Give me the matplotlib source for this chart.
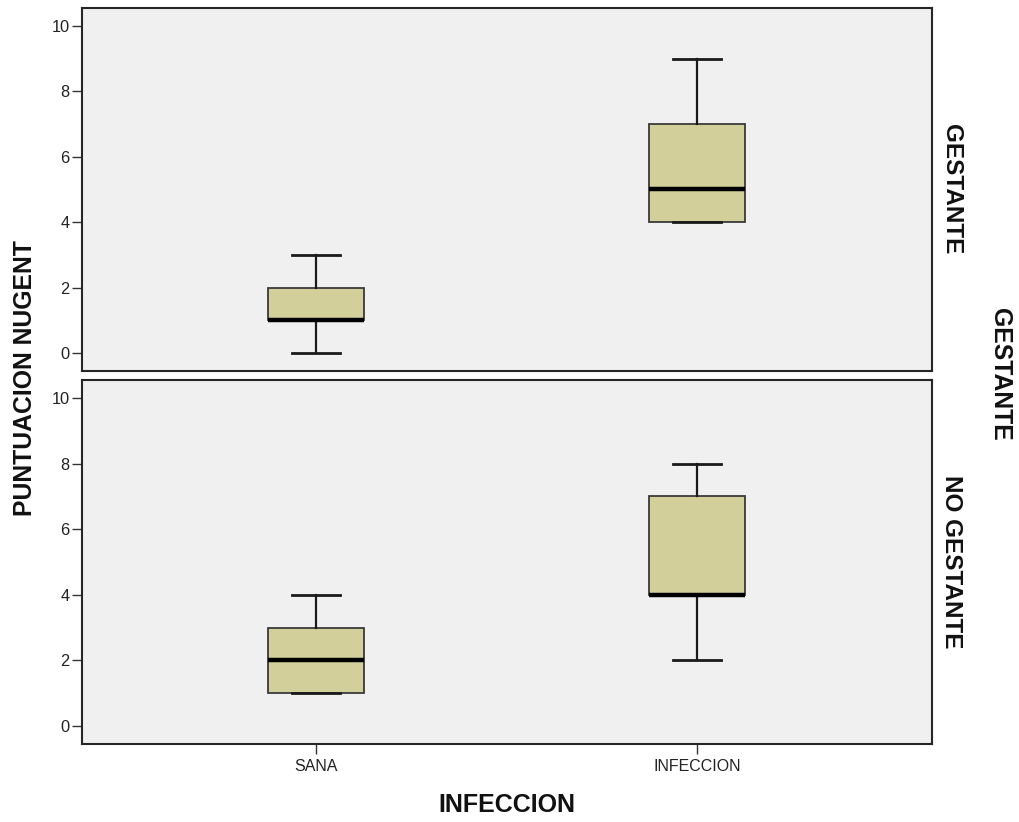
import matplotlib
matplotlib.use('Agg')
import matplotlib.pyplot as plt

plt.rcParams['font.family'] = ['Liberation Sans', 'DejaVu Sans']

categories = ['SANA', 'INFECCION']
panels = ['GESTANTE', 'NO GESTANTE']

# five-number summaries per panel: (whislo, q1, med, q3, whishi)
gestante = [(0, 1, 1, 2, 3), (4, 4, 5, 7, 9)]
no_gestante = [(1, 1, 2, 3, 4), (2, 4, 4, 7, 8)]
yticks = [0, 2, 4, 6, 8, 10]

box_fill = '#d3cf9b'
bg = '#f0f0f0'
edge = '#262626'


def stats(rows):
    out = []
    for lo, q1, med, q3, hi in rows:
        out.append(dict(whislo=lo, q1=q1, med=med, q3=q3, whishi=hi, fliers=[]))
    return out


fig = plt.figure(figsize=(10.2, 8.22), dpi=100)
ax1 = fig.add_axes([0.0804, 0.5487, 0.8333, 0.4416])
ax2 = fig.add_axes([0.0804, 0.0949, 0.8333, 0.4428])

for ax, data, name in [(ax1, gestante, panels[0]), (ax2, no_gestante, panels[1])]:
    ax.set_facecolor(bg)
    ax.bxp(stats(data), positions=[1, 2], widths=0.25, patch_artist=True,
           showfliers=False,
           boxprops=dict(facecolor=box_fill, edgecolor='#3a3a3a', linewidth=1.3),
           medianprops=dict(color='black', linewidth=3.2),
           whiskerprops=dict(color='#1a1a1a', linewidth=1.6),
           capprops=dict(color='#1a1a1a', linewidth=2.0),
           capwidths=0.125)
    ax.set_xlim(0.386, 2.617)
    ax.set_ylim(-0.55, 10.55)
    ax.set_yticks(yticks)
    ax.set_yticklabels([str(t) for t in yticks], fontsize=11.8, color='#222222')
    ax.tick_params(axis='y', length=7, width=1, color='#333333', pad=2)
    for s in ax.spines.values():
        s.set_color(edge)
        s.set_linewidth(1.5)
    ax.text(1.0095, 0.5, name, transform=ax.transAxes, rotation=-90,
            ha='left', va='center', fontsize=17.5, fontweight='bold', color='#111111')

ax1.set_xticks([])
ax2.set_xticks([1, 2])
ax2.set_xticklabels(categories, fontsize=11.5, color='#222222')
ax2.tick_params(axis='x', length=7, width=1, color='#333333', pad=4)

fig.text(0.025, 0.54, 'PUNTUACION NUGENT', rotation=90, ha='center', va='center',
         fontsize=17.8, fontweight='bold', color='#111111')
fig.text(0.497, 0.021, 'INFECCION', ha='center', va='center',
         fontsize=18, fontweight='bold', color='#111111')
fig.text(0.980, 0.544, 'GESTANTE', rotation=-90, ha='center', va='center',
         fontsize=17.8, fontweight='bold', color='#111111')

fig.savefig('out.png', dpi=100, facecolor='white')
